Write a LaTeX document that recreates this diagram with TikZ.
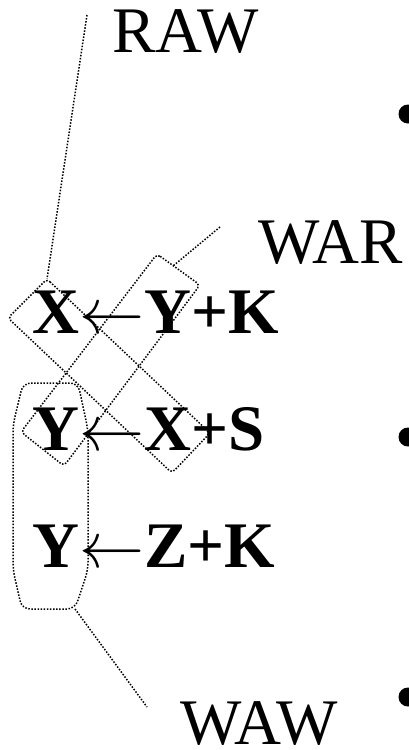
\documentclass[tikz,border=0pt]{standalone}
\usepackage{graphicx}
\usepackage{fontspec}
\setmainfont{Liberation Serif}
\newcommand{\larr}{\scalebox{6.5}{\normalsize$\leftarrow$}}
\tikzset{
  hazard/.style={line width=1.5pt, dash pattern=on 1.5pt off 1.6pt},
  lbl/.style={anchor=base west, inner sep=0pt, font=\fontsize{65}{65}\selectfont},
  instr/.style={lbl, font=\fontsize{65}{65}\selectfont\bfseries}
}
\begin{document}
\begin{tikzpicture}[x=1pt,y=-1pt]
      \useasboundingbox (0,0) rectangle (409,750);

      \node[lbl] (raw) at (112,52) {RAW};
      \node[lbl] (war) at (258,263) {WAR};
      \node[lbl] (waw) at (180,744) {WAW};

      \node[instr] (ia) at (32,333) {X\larr Y+K};
      \node[instr] (ib) at (32,450) {Y\larr X+S};
      \node[instr] (ic) at (32,567) {Y\larr Z+K};

      \foreach \y in {114,437,697}
      {\fill (408,\y) circle (9.5pt);
      };

      % RAW: X written, then read
      \coordinate (rawN) at (47,279);
      \coordinate (rawtip) at (87,15);
      \draw[hazard, rounded corners=4pt] (rawN) -- (210,433) -- (172,473) -- (8,318) -- cycle;
      \draw[hazard] (rawtip) -- (rawN);

      % WAR: Y read, then written
      \coordinate (warNE) at (173,266);
      \coordinate (wartip) at (220,227);
      \draw[hazard, rounded corners=4pt] (157,254) -- (200,285) -- (64,466) -- (21,432) -- cycle;
      \draw[hazard] (wartip) -- (warNE);

      % WAW: Y written twice
      \coordinate (wawSE) at (75,609);
      \coordinate (wawtip) at (147,707);
      \draw[hazard, rounded corners=8pt] (23,383) -- (78,383) -- (88,430) -- (88,570) -- (wawSE) -- (22,609) -- (13,570) -- (13,425) -- cycle;
      \draw[hazard] (wawSE) -- (wawtip);
\end{tikzpicture}
\end{document}
